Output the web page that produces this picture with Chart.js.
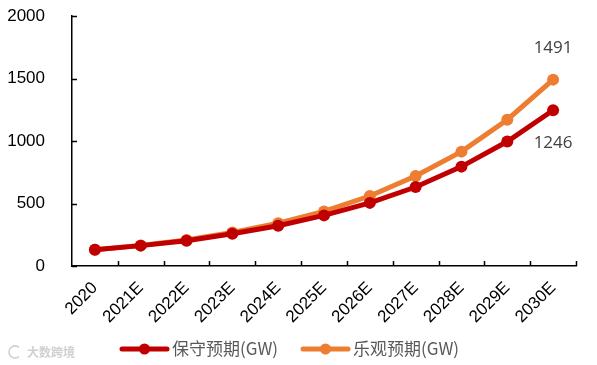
<!DOCTYPE html>
<html>
<head>
<meta charset="utf-8">
<script src="https://cdn.jsdelivr.net/npm/chart.js@4/dist/chart.umd.min.js"></script>
<style>
  html, body { margin: 0; padding: 0; background: #fff; }
  #wrap { width: 597px; height: 365px; position: relative; }
</style>
</head>
<body>
<div id="wrap"><canvas id="c"></canvas></div>
<script>
const years = ["2020", "2021E", "2022E", "2023E", "2024E", "2025E", "2026E", "2027E", "2028E", "2029E", "2030E"];
const conservative = [130, 163, 202, 258, 322, 405, 505, 632, 795, 996, 1246];
const optimistic = [130, 165, 208, 268, 342, 437, 560, 720, 915, 1170, 1491];
const seriesNames = ["保守预期(GW)", "乐观预期(GW)"];
const yTicks = [0, 500, 1000, 1500, 2000];

const red = "#C00000";
const orange = "#ED7D31";
const labelColor = "#404040";

// inward tick marks on both axes
const innerTicks = {
  id: "innerTicks",
  afterDraw(chart) {
    const { ctx, chartArea, scales } = chart;
    ctx.save();
    ctx.strokeStyle = "#000";
    ctx.lineWidth = 1.5;
    ctx.beginPath();
    scales.y.ticks.forEach((t) => {
      const y = Math.round(scales.y.getPixelForValue(t.value)) + 0.5;
      ctx.moveTo(chartArea.left, y);
      ctx.lineTo(chartArea.left + 5, y);
    });
    const half = (scales.x.getPixelForValue(1) - scales.x.getPixelForValue(0)) / 2;
    for (let i = 0; i < years.length; i++) {
      const x = Math.round(scales.x.getPixelForValue(i) + half) + 0.5;
      ctx.moveTo(x, chartArea.bottom);
      ctx.lineTo(x, chartArea.bottom - 5);
    }
    ctx.stroke();
    ctx.restore();
  },
};

// end-point value labels + bottom legend + watermark
const extras = {
  id: "extras",
  afterDraw(chart) {
    const { ctx } = chart;
    ctx.save();
    ctx.font = "17px 'Open Sans', 'Liberation Sans', sans-serif";
    ctx.fillStyle = labelColor;
    ctx.textAlign = "center";
    ctx.textBaseline = "middle";
    const last = years.length - 1;
    const pOpt = chart.getDatasetMeta(1).data[last];
    const pCon = chart.getDatasetMeta(0).data[last];
    ctx.fillText(String(optimistic[last]), pOpt.x, pOpt.y - 31);
    ctx.fillText(String(conservative[last]), pCon.x, pCon.y + 33);

    // legend
    const items = [
      { x: 122, color: red, text: seriesNames[0] },
      { x: 303, color: orange, text: seriesNames[1] },
    ];
    const ly = 349;
    items.forEach((it) => {
      ctx.strokeStyle = it.color;
      ctx.lineWidth = 5;
      ctx.lineCap = "round";
      ctx.beginPath();
      ctx.moveTo(it.x, ly);
      ctx.lineTo(it.x + 45, ly);
      ctx.stroke();
      ctx.fillStyle = it.color;
      ctx.beginPath();
      ctx.arc(it.x + 22.5, ly, 5.5, 0, Math.PI * 2);
      ctx.fill();
      ctx.fillStyle = "#595959";
      ctx.textAlign = "left";
      ctx.font = "17px 'Noto Sans CJK SC', sans-serif";
      ctx.fillText(it.text, it.x + 50, ly);
    });

    // faint watermark
    ctx.fillStyle = "#d0d0d0";
    ctx.font = "bold 12px 'Noto Sans CJK SC', sans-serif";
    ctx.textAlign = "left";
    ctx.fillText("大数跨境", 27, 352);
    ctx.strokeStyle = "#d0d0d0";
    ctx.lineWidth = 1.5;
    ctx.beginPath();
    ctx.arc(15, 352, 6, Math.PI * 0.3, Math.PI * 1.7);
    ctx.stroke();
    ctx.restore();
  },
};

new Chart(document.getElementById("c"), {
  type: "line",
  data: {
    labels: years,
    datasets: [
      {
        label: seriesNames[0],
        data: conservative,
        borderColor: red,
        backgroundColor: red,
        borderWidth: 5,
        pointRadius: 6,
        pointBorderWidth: 0,
        pointBackgroundColor: red,
        tension: 0,
      },
      {
        label: seriesNames[1],
        data: optimistic,
        borderColor: orange,
        backgroundColor: orange,
        borderWidth: 5,
        pointRadius: 6,
        pointBorderWidth: 0,
        pointBackgroundColor: orange,
        tension: 0,
      },
    ],
  },
  options: {
    responsive: true,
    maintainAspectRatio: false,
    animation: false,
    events: [],
    layout: { padding: { top: 16, right: 21, bottom: 35, left: 0 } },
    plugins: {
      legend: { display: false },
      tooltip: { enabled: false },
    },
    scales: {
      x: {
        offset: true,
        grid: { display: false, offset: true },
        border: { display: true, color: "#000", width: 1.5 },
        ticks: {
          color: "#000",
          font: { family: "'Liberation Sans', Arial, sans-serif", size: 17 },
          minRotation: 45,
          maxRotation: 45,
          padding: 4,
          autoSkip: false,
        },
        afterFit(scale) { scale.height = 64; },
      },
      y: {
        min: 0,
        max: 2000,
        afterBuildTicks(scale) { scale.ticks = yTicks.map((v) => ({ value: v })); },
        grid: { display: false },
        border: { display: true, color: "#000", width: 1.5 },
        ticks: {
          color: "#000",
          font: { family: "'Liberation Sans', Arial, sans-serif", size: 17 },
          padding: 19,
          callback: (v) => String(v),
        },
        afterFit(scale) {
          scale.width = 72;
          scale.paddingTop = 9;
          scale.paddingBottom = 9;
        },
      },
    },
  },
  plugins: [innerTicks, extras],
});
</script>
</body>
</html>
